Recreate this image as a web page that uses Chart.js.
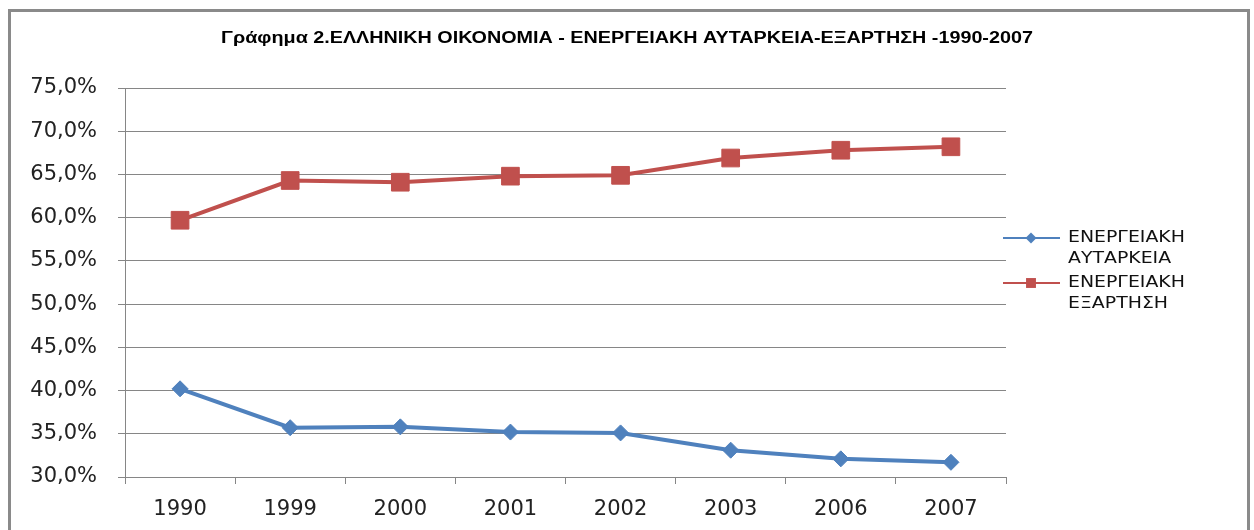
<!DOCTYPE html>
<html>
<head>
<meta charset="utf-8">
<script src="https://cdn.jsdelivr.net/npm/chart.js@4.4.1/dist/chart.umd.min.js"></script>
<style>
  html, body { margin: 0; padding: 0; background: #fff; }
  #wrap { width: 1254px; height: 530px; position: relative; }
</style>
</head>
<body>
<div id="wrap"><canvas id="c"></canvas></div>
<script>
const titleText = "Γράφημα 2.ΕΛΛΗΝΙΚΗ ΟΙΚΟΝΟΜΙΑ - ΕΝΕΡΓΕΙΑΚΗ ΑΥΤΑΡΚΕΙΑ-ΕΞΑΡΤΗΣΗ -1990-2007";
const years = ["1990", "1999", "2000", "2001", "2002", "2003", "2006", "2007"];
const selfSufficiency = [40.2, 35.7, 35.8, 35.2, 35.1, 33.1, 32.1, 31.7];
const dependency = [59.7, 64.3, 64.1, 64.8, 64.9, 66.9, 67.8, 68.2];
const seriesNames = [["ΕΝΕΡΓΕΙΑΚΗ", "ΑΥΤΑΡΚΕΙΑ"], ["ΕΝΕΡΓΕΙΑΚΗ", "ΕΞΑΡΤΗΣΗ"]];

const BLUE = "#4F81BD", RED = "#C0504D", GRID = "#868686";
const tickFont = { family: "'DejaVu Sans', Verdana, sans-serif", size: 21 };

// the source chart is stretched sideways, so title and legend text get a x-scale
function wideText(ctx, text, x, y, sx) {
  ctx.save();
  ctx.translate(x, y);
  ctx.scale(sx, 1);
  ctx.fillText(text, 0, 0);
  ctx.restore();
}

// frame, title and the two-line legend on the right
const decor = {
  id: "decor",
  beforeDraw(chart) {
    const ctx = chart.ctx;
    ctx.save();
    ctx.fillStyle = "#fff";
    ctx.fillRect(0, 0, chart.width, chart.height);
    ctx.strokeStyle = "#8a8a8a";
    ctx.lineWidth = 3;
    ctx.strokeRect(9.5, 10.5, 1239, 540);
    ctx.restore();
  },
  afterDraw(chart) {
    const ctx = chart.ctx;
    ctx.save();
    ctx.fillStyle = "#000";
    ctx.font = "bold 16px 'Liberation Sans', Arial, sans-serif";
    ctx.textAlign = "center";
    ctx.textBaseline = "middle";
    wideText(ctx, titleText, 627, 39, 1.235);

    const rows = [238, 283];
    chart.data.datasets.forEach((ds, i) => {
      const y = rows[i];
      ctx.strokeStyle = ds.borderColor;
      ctx.lineWidth = 2;
      ctx.beginPath();
      ctx.moveTo(1003, y);
      ctx.lineTo(1060, y);
      ctx.stroke();
      ctx.fillStyle = ds.borderColor;
      Chart.helpers.drawPoint(ctx, { pointStyle: ds.pointStyle, radius: ds.pointStyle === "rect" ? 7 : 5.5, borderWidth: 0 }, 1031, y);
      ctx.fillStyle = "#111";
      ctx.font = "16px 'DejaVu Sans', Verdana, sans-serif";
      ctx.textAlign = "left";
      ctx.textBaseline = "middle";
      seriesNames[i].forEach((t, k) => wideText(ctx, t, 1068, y + k * 21, 1.18));
    });
    ctx.restore();
  }
};

new Chart(document.getElementById("c"), {
  type: "line",
  data: {
    labels: years,
    datasets: [
      { label: seriesNames[0].join(" "), data: selfSufficiency, borderColor: BLUE, backgroundColor: BLUE,
        borderWidth: 4, pointStyle: "rectRot", pointRadius: 8, pointBorderWidth: 1, tension: 0 },
      { label: seriesNames[1].join(" "), data: dependency, borderColor: RED, backgroundColor: RED,
        borderWidth: 4, pointStyle: "rect", pointRadius: 12.5, pointBorderWidth: 1, tension: 0 }
    ]
  },
  options: {
    animation: false, responsive: true, maintainAspectRatio: false,
    layout: { padding: { top: 88, left: 0, right: 0, bottom: 0 } },
    plugins: { legend: { display: false }, title: { display: false }, tooltip: { enabled: false } },
    scales: {
      x: {
        offset: true,
        grid: { offset: true, drawOnChartArea: false, color: GRID, tickLength: 7 },
        border: { color: GRID },
        ticks: { font: tickFont, color: "#222", padding: 13 },
        afterFit: s => { s.height = 53; }
      },
      y: {
        min: 30, max: 75,
        grid: { color: GRID, tickLength: 7 },
        border: { color: GRID },
        ticks: { stepSize: 5, font: tickFont, color: "#222", padding: 21,
          callback: v => v.toFixed(1).replace(".", ",") + "%" },
        afterFit: s => { s.width = 125; }
      },
      pad: {
        position: "right", display: true,
        grid: { display: false }, border: { display: false }, ticks: { display: false },
        afterFit: s => { s.width = 248; }
      }
    }
  },
  plugins: [decor]
});
</script>
</body>
</html>
